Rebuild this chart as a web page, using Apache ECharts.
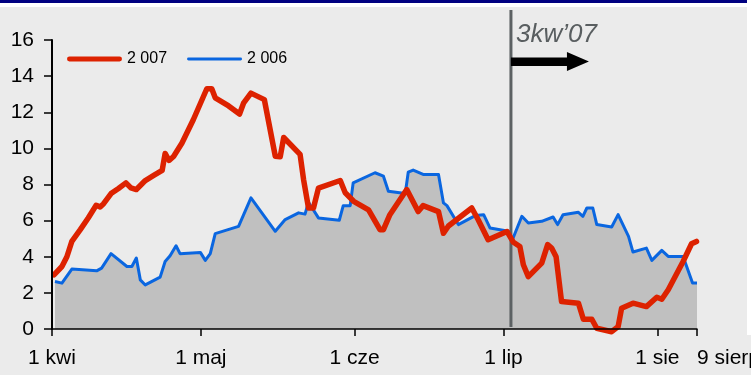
<!DOCTYPE html>
<html>
<head>
<meta charset="utf-8">
<script src="https://cdn.jsdelivr.net/npm/echarts@6/dist/echarts.min.js"></script>
<style>
  html, body { margin: 0; padding: 0; background: #ffffff; }
  #chart { width: 751px; height: 375px; }
</style>
</head>
<body>
<div id="chart"></div>
<script>
// x positions are day offsets from 1 April
const tickDays = [0, 30, 61, 91, 122, 130];
const tickLabels = ['1 kwi', '1 maj', '1 cze', '1 lip', '1 sie', '9 sierp'];

const name2007 = '2 007';
const days2007 = [0.4, 2, 3, 4, 5.7, 7.3, 8.9, 9.7, 10.4, 11.9, 13.4, 14.9, 15.9, 17, 18.8, 20.5, 22.2, 22.8, 23.6, 24.5,
  26.2, 28.5, 31.2, 32.2, 32.9, 35.6, 37.8, 38.6, 40.1, 42.8, 45, 46, 46.7, 50, 50.7, 51.7, 52.7, 53.7, 58.1, 59.1,
  60.8, 63.8, 66.1, 66.8, 68.1, 71.5, 73.8, 74.8, 77.9, 78.9, 79.9, 84.6, 85.9, 87.9, 91.7, 93, 94.3, 95, 96, 98.7,
  99.9, 100.7, 101.6, 102.7, 106.1, 107.1, 108.8, 109.8, 112.8, 114.1, 114.8, 117.1, 119.8, 121.9, 122.9, 124.2, 127.2, 128.9, 129.9];
const vals2007 = [3.0, 3.46, 4.0, 4.85, 5.5, 6.15, 6.85, 6.76, 6.94, 7.5, 7.78, 8.09, 7.81, 7.72, 8.22, 8.5, 8.78, 9.72, 9.33, 9.55,
  10.3, 11.6, 13.3, 13.3, 12.8, 12.35, 11.9, 12.5, 13.06, 12.7, 9.57, 9.54, 10.6, 9.67, 8.28, 6.7, 6.7, 7.8, 8.22, 7.54,
  7.07, 6.6, 5.5, 5.5, 6.33, 7.72, 6.5, 6.83, 6.5, 5.3, 5.7, 6.7, 6.05, 4.94, 5.4, 4.8, 4.57, 3.56, 2.9, 3.65,
  4.67, 4.48, 4.0, 1.52, 1.43, 0.54, 0.54, 0.04, -0.15, 0.13, 1.15, 1.43, 1.24, 1.76, 1.65, 2.17, 3.74, 4.72, 4.85];

const name2006 = '2 006';
const days2006 = [0.6, 2, 4, 9, 10, 11.9, 15.1, 16.1, 17, 17.8, 18.8, 21.8, 22.8, 23.8, 25, 25.8, 29.9, 30.9, 31.9, 32.9,
  37.6, 40.1, 45, 47, 49.7, 51, 51.7, 53.7, 57.9, 58.7, 60.1, 60.7, 65.1, 66.8, 67.8, 71.2, 71.8, 72.8, 74.8, 77.9,
  78.9, 79.6, 81.9, 85.3, 87, 88.3, 92, 92.8, 94.7, 96, 98.7, 101, 101.9, 103, 106.1, 107, 107.8, 109, 109.8, 112.8,
  114.1, 116.2, 117.1, 119.8, 120.9, 122.9, 124.2, 127.2, 129.1, 130];
const vals2006 = [2.63, 2.54, 3.32, 3.22, 3.37, 4.17, 3.46, 3.46, 3.93, 2.72, 2.44, 2.87, 3.74, 4.06, 4.61, 4.17, 4.24, 3.8, 4.17, 5.28,
  5.68, 7.26, 5.41, 6.06, 6.43, 6.36, 7.02, 6.15, 6.02, 6.83, 6.83, 8.09, 8.65, 8.46, 7.63, 7.5, 8.68, 8.8, 8.56, 8.56,
  6.98, 6.83, 5.78, 6.28, 6.33, 5.59, 5.41, 4.94, 6.24, 5.87, 5.96, 6.2, 5.78, 6.33, 6.46, 6.24, 6.7, 6.7, 5.78, 5.65,
  6.33, 5.13, 4.26, 4.48, 3.8, 4.35, 4.02, 4.02, 2.54, 2.54];

// start of the third quarter marker
const q3Day = 92.5;
const q3Label = '3kw\u201907';

const FONT = 'Arial, "Liberation Sans", sans-serif';
const RED = '#dd2200';
const BLUE = '#0a66e0';
const zip = (xs, ys) => xs.map((x, i) => [x, ys[i]]);

// legend keys: plain round-ended bars, thick for 2007, thin for 2006
const thickKey = 'path://M2.5,0H53.5A2.5,2.5,0,0,1,53.5,5H2.5A2.5,2.5,0,0,1,2.5,0Z';
const thinKey = 'path://M1.5,0H54.5A1.5,1.5,0,0,1,54.5,3H1.5A1.5,1.5,0,0,1,1.5,0Z';

const chart = echarts.init(document.getElementById('chart'), null, { renderer: 'canvas' });

chart.setOption({
  animation: false,
  backgroundColor: '#ebebeb',
  textStyle: { fontFamily: FONT },
  grid: { left: 52, right: 54, top: 40, bottom: 46, containLabel: false, outerBoundsMode: 'none' },
  legend: {
    left: 62, top: 46,
    itemWidth: 55, itemHeight: 14, itemGap: 20,
    data: [
      { name: name2007, icon: thickKey, itemStyle: { color: RED } },
      { name: name2006, icon: thinKey, itemStyle: { color: BLUE } }
    ],
    textStyle: { fontSize: 16, color: '#000', fontFamily: FONT }
  },
  xAxis: {
    type: 'value', min: 0, max: 130,
    z: 5,
    splitLine: { show: false },
    axisLine: { show: true, onZero: false, lineStyle: { color: '#000', width: 1.5 } },
    axisTick: { show: true, inside: false, length: 7, customValues: tickDays, lineStyle: { color: '#000', width: 1.5 } },
    axisLabel: {
      customValues: tickDays,
      margin: 19,
      fontSize: 21,
      color: '#000',
      fontFamily: FONT,
      alignMaxLabel: 'left',
      formatter: (v) => tickLabels[tickDays.indexOf(Math.round(v))] || ''
    }
  },
  yAxis: {
    type: 'value', min: 0, max: 16, interval: 2,
    z: 5,
    splitLine: { show: false },
    axisLine: { show: true, lineStyle: { color: '#000', width: 2 } },
    axisTick: { show: true, inside: false, length: 8, lineStyle: { color: '#000', width: 1.5 } },
    axisLabel: { margin: 18, fontSize: 21, color: '#000', fontFamily: FONT }
  },
  series: [
    {
      name: name2007,
      type: 'line',
      z: 4,
      clip: false,
      symbol: 'none',
      data: zip(days2007, vals2007),
      lineStyle: { color: RED, width: 5.5, cap: 'round', join: 'round' },
      itemStyle: { color: RED }
    },
    {
      name: name2006,
      type: 'line',
      z: 2,
      symbol: 'none',
      data: zip(days2006, vals2006),
      lineStyle: { color: BLUE, width: 3, join: 'round' },
      itemStyle: { color: BLUE },
      areaStyle: { color: '#c0c0c0', opacity: 1, origin: 'start' }
    }
  ]
});

// frame strips, quarter divider line, label and arrow
const qx = chart.convertToPixel({ xAxisIndex: 0 }, q3Day);
const yTop = chart.convertToPixel({ yAxisIndex: 0 }, 16);
const yZero = chart.convertToPixel({ yAxisIndex: 0 }, 0);

chart.setOption({
  graphic: [
    { type: 'rect', z: 1, silent: true, shape: { x: 0, y: 0, width: 751, height: 3 }, style: { fill: '#000080' } },
    { type: 'rect', z: 1, silent: true, shape: { x: 0, y: 3, width: 751, height: 4 }, style: { fill: '#ffffff' } },
    { type: 'rect', z: 1, silent: true, shape: { x: 747, y: 0, width: 4, height: 335 }, style: { fill: '#ffffff' } },
    {
      type: 'line', z: 3, silent: true,
      shape: { x1: qx, y1: yTop - 30, x2: qx, y2: yZero - 2 },
      style: { stroke: '#5c6163', lineWidth: 3 }
    },
    {
      type: 'text', z: 6, silent: true,
      x: qx + 5, y: yTop - 5,
      style: {
        text: q3Label, fill: '#595e60',
        font: 'italic 26px ' + FONT,
        align: 'left', verticalAlign: 'middle'
      }
    },
    {
      type: 'polygon', z: 6, silent: true,
      shape: {
        points: [
          [qx, yTop + 17.5], [qx + 56, yTop + 17.5], [qx + 56, yTop + 12],
          [qx + 78, yTop + 21.5], [qx + 56, yTop + 31], [qx + 56, yTop + 26], [qx, yTop + 26]
        ]
      },
      style: { fill: '#000000' }
    }
  ]
});
</script>
</body>
</html>
